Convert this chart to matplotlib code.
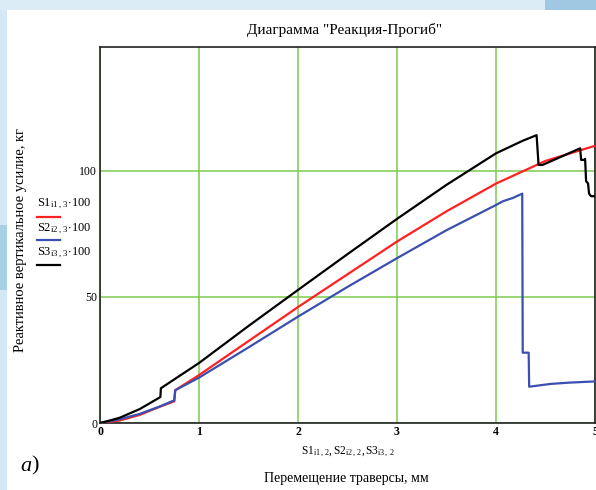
import matplotlib
matplotlib.use("Agg")
import matplotlib.pyplot as plt
from matplotlib.patches import Rectangle
from matplotlib.lines import Line2D

plt.rcParams['font.family'] = ['Liberation Serif', 'DejaVu Serif']
plt.rcParams['mathtext.fontset'] = 'custom'
plt.rcParams['mathtext.rm'] = 'Liberation Serif'
plt.rcParams['mathtext.it'] = 'Liberation Serif:italic'

# ---- data ----
s1_x = [0, 0.2, 0.4, 0.6, 0.75, 0.76, 1.0, 1.5, 2.0, 2.5, 3.0, 3.5, 4.0, 4.5, 5.0]
s1_y = [0, 1.0, 3.2, 6.4, 8.6, 13, 19, 32.5, 46, 59, 72, 84, 95, 104, 110]

s2_x = [0, 0.2, 0.4, 0.6, 0.75, 0.76, 1.0, 1.5, 2.0, 2.5, 3.0, 3.5, 4.0, 4.07, 4.17, 4.265,
        4.27, 4.33, 4.335, 4.55, 4.73, 5.0]
s2_y = [0, 1.5, 3.6, 6.5, 9, 13, 18, 30, 42.2, 54, 65.4, 76.5, 86.5, 88, 89.3, 91,
        27.9, 27.9, 14.4, 15.5, 16, 16.5]

s3_x = [0, 0.1, 0.2, 0.4, 0.61, 0.615, 1.0, 1.5, 2.0, 2.5, 3.0, 3.5, 4.0, 4.27, 4.39, 4.41,
        4.43, 4.47, 4.85, 4.86, 4.89, 4.9, 4.91, 4.93, 4.94, 4.96, 5.0]
s3_y = [0, 1.0, 2.1, 5.5, 10.3, 13.8, 23.8, 38.5, 52.8, 67, 81, 94.5, 107, 112, 113.9, 114.2,
        102.4, 102.4, 109, 104.4, 104.4, 104.8, 96, 95, 91, 90, 90]

x_ticks = [0, 1, 2, 3, 4, 5]
y_ticks = [0, 50, 100]
legend_labels = [r'$\mathrm{S1}_{\mathrm{i1\,,\,3}}\!\cdot\!\mathrm{100}$',
                 r'$\mathrm{S2}_{\mathrm{i2\,,\,3}}\!\cdot\!\mathrm{100}$',
                 r'$\mathrm{S3}_{\mathrm{i3\,,\,3}}\!\cdot\!\mathrm{100}$']
colors = ['#ff2020', '#3a4fb0', '#000000']

W, H = 596, 490
fig = plt.figure(figsize=(W / 100, H / 100), dpi=100)
fig.patch.set_facecolor('white')

def fx(px):
    return px / W

def fy(py):
    return 1 - py / H

# decorative background strips
fig.patches.append(Rectangle((0, 0), fx(7), 1, transform=fig.transFigure,
                             facecolor='#d3e7f4', edgecolor='none', zorder=0))
fig.patches.append(Rectangle((0, fy(290)), fx(7), (290 - 225) / H, transform=fig.transFigure,
                             facecolor='#a9cfe5', edgecolor='none', zorder=0))
fig.patches.append(Rectangle((0, fy(10)), 1, 10 / H, transform=fig.transFigure,
                             facecolor='#dcecf7', edgecolor='none', zorder=0))
fig.patches.append(Rectangle((fx(545), fy(10)), fx(51), 10 / H, transform=fig.transFigure,
                             facecolor='#9fc9e2', edgecolor='none', zorder=0))

ax = fig.add_axes([fx(100), fy(423), fx(595) - fx(100), fy(47) - fy(423)])
ax.set_xlim(0, 5)
ax.set_ylim(0, 149.2)

ax.plot(s1_x, s1_y, color=colors[0], lw=1.6, zorder=3)
ax.plot(s2_x, s2_y, color=colors[1], lw=1.6, zorder=3)
ax.plot(s3_x, s3_y, color=colors[2], lw=1.6, zorder=4)

ax.set_xticks(x_ticks)
ax.set_yticks(y_ticks)
ax.set_xticklabels([str(v) for v in x_ticks], fontsize=8.5, fontweight='bold')
ax.set_yticklabels([str(v) for v in y_ticks], fontsize=8.5)
ax.tick_params(length=0, pad=2)
ax.grid(True, color='#7dcc4f', lw=1.1)
for sp in ax.spines.values():
    sp.set_color('#222222')
    sp.set_linewidth(1.2)

fig.text(fx(345), fy(30), 'Диаграмма "Реакция-Прогиб"', ha='center', va='center', fontsize=11)
fig.text(fx(21), fy(240), 'Реактивное вертикальное усилие, кг', rotation=90,
         ha='center', va='center', fontsize=10.5)
fig.text(fx(348), fy(452),
         r'$\mathrm{S1}_{\mathrm{i1\,,\,2}}\mathrm{,}\,\mathrm{S2}_{\mathrm{i2\,,\,2}}\mathrm{,}\,\mathrm{S3}_{\mathrm{i3\,,\,2}}$',
         ha='center', va='center', fontsize=8.3)
fig.text(fx(346), fy(478), 'Перемещение траверсы, мм', ha='center', va='center', fontsize=10)
fig.text(fx(20), fy(466), 'а', ha='left', va='center', fontsize=16, style='italic')
fig.text(fx(31), fy(466), ')', ha='left', va='center', fontsize=16)

text_y = [204, 229, 253]
line_y = [216.5, 240.5, 264.5]
for lab, c, ty, ly in zip(legend_labels, colors, text_y, line_y):
    fig.text(fx(37), fy(ty), lab, ha='left', va='center', fontsize=9)
    fig.add_artist(Line2D([fx(37), fx(60)], [fy(ly), fy(ly)], color=c, lw=1.6,
                          transform=fig.transFigure))

fig.savefig('out.png', dpi=100)
